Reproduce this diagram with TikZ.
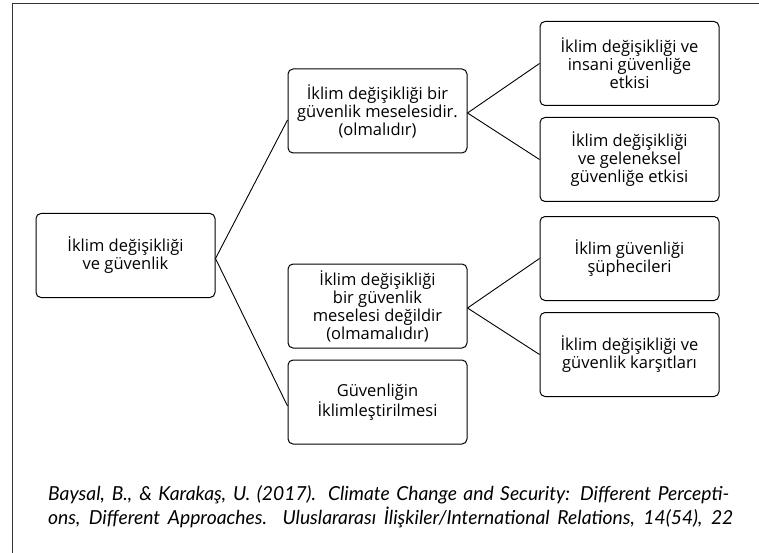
\documentclass[tikz,border=0pt]{standalone}
\usepackage{fontspec}
\setmainfont{Open Sans}
\newfontfamily\citefont{Lato}
\usetikzlibrary{positioning}

\tikzset{
	box/.style={draw, line width=1pt, rounded corners=5pt, minimum width=179pt, minimum height=84pt, align=center, inner sep=2pt, font=\fontsize{16.5pt}{18pt}\selectfont},
	link/.style={line width=0.9pt},
	cite/.style={anchor=base west, inner sep=0pt, font=\citefont\itshape\fontsize{19.3pt}{24pt}\selectfont}
}

\begin{document}
\begin{tikzpicture}[x=1pt, y=1pt]
	\useasboundingbox (0,0) rectangle (759,-553);
	\draw[line width=0.9pt, black!80] (12,-553) |- (759,-3);

	\node[box] (root) at (125.5,-255.5) {İklim değişikliği\\ve güvenlik};
	\node[box, right=72pt of root, yshift=144.5pt] (yes) {İklim değişikliği bir\\güvenlik meselesidir.\\(olmalıdır)};
	\node[box, right=72pt of root, yshift=-50.5pt] (no) {İklim değişikliği\\bir güvenlik\\meselesi değildir\\(olmamalıdır)};
	\node[box, below=11pt of no] (clim) {Güvenliğin\\İklimleştirilmesi};
	\node[box, right=72pt of yes, yshift=47.5pt] (human) {İklim değişikliği ve\\insani güvenliğe\\etkisi};
	\node[box, below=11pt of human] (trad) {İklim değişikliği\\ve geleneksel\\güvenliğe etkisi};
	\node[box, right=72pt of no, yshift=47.5pt] (skep) {İklim güvenliği\\şüphecileri};
	\node[box, below=11pt of skep] (opp) {İklim değişikliği ve\\güvenlik karşıtları};

	\draw[link] ([yshift=-9pt]yes.west) -- ([yshift=-3pt]root.east) -- ([yshift=-4pt]clim.west);
	\draw[link] (human.west) -- ([yshift=-2pt]yes.east) -- (trad.west);
	\draw[link] (skep.west) -- ([yshift=-2pt]no.east) -- (opp.west);

	\node[cite] (cite1) at (48,-500) {\makebox[681pt][s]{Baysal, B., \& Karakaş, U. (2017). Climate Change and Security: Different Percepti-}};
	\node[cite] (cite2) at (48,-524) {\makebox[685pt][s]{ons, Different Approaches. Uluslararası İlişkiler/International Relations, 14(54), 22}};
\end{tikzpicture}
\end{document}
